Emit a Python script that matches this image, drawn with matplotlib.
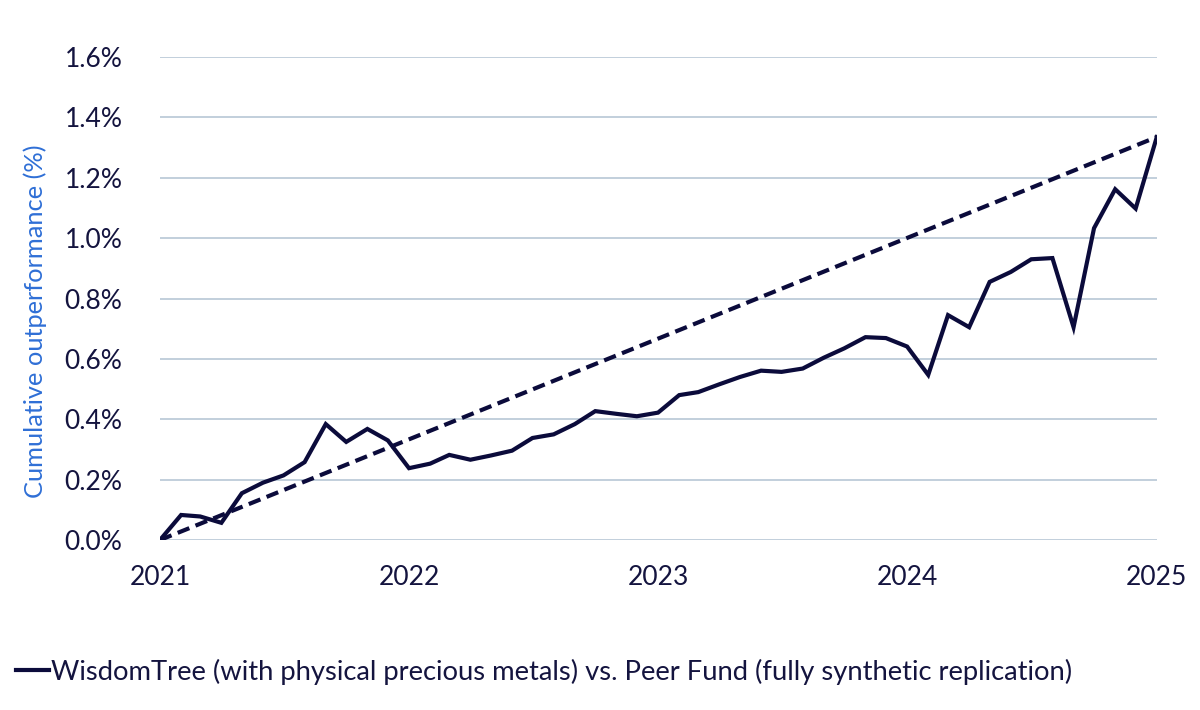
import pandas as pd
import matplotlib.pyplot as plt

# Monthly cumulative outperformance (%), Jan 2021 - Jan 2025
dates = pd.date_range('2021-01-01', '2025-01-01', freq='MS')
outperformance = [
    0.000, 0.083, 0.078, 0.057, 0.155, 0.190, 0.214, 0.258, 0.384, 0.325,
    0.368, 0.330, 0.238, 0.253, 0.282, 0.266, 0.280, 0.296, 0.338, 0.350,
    0.384, 0.427, 0.418, 0.410, 0.422, 0.480, 0.490, 0.516, 0.540, 0.561,
    0.557, 0.568, 0.604, 0.635, 0.672, 0.669, 0.641, 0.547, 0.745, 0.705,
    0.855, 0.888, 0.930, 0.934, 0.705, 1.033, 1.162, 1.098, 1.335,
]
# straight-line path from first to last value
trend_dates = [dates[0], dates[-1]]
trend_values = [outperformance[0], outperformance[-1]]

yticks = [0.0, 0.2, 0.4, 0.6, 0.8, 1.0, 1.2, 1.4, 1.6]
xticks = pd.to_datetime(['2021-01-01', '2022-01-01', '2023-01-01', '2024-01-01', '2025-01-01'])
xticklabels = ['2021', '2022', '2023', '2024', '2025']

navy = '#0B0B3B'
text_col = '#14143F'
grid_col = '#C2CFDC'
label_blue = '#2F6FD6'

plt.rcParams['font.family'] = ['Lato', 'DejaVu Sans']

fig = plt.figure(figsize=(12, 7.1), dpi=100)
ax = fig.add_axes([0.1333, 0.2394, 0.8307, 0.6803])

ax.plot(dates, outperformance, color=navy, lw=3, solid_joinstyle='miter',
        label='WisdomTree (with physical precious metals) vs. Peer Fund (fully synthetic replication)', zorder=3)
ax.plot(trend_dates, trend_values, color=navy, lw=3, dashes=(3.0, 1.6), zorder=3)

ax.set_xlim(dates[0], dates[-1])
ax.set_ylim(0, 1.6)
ax.set_yticks(yticks)
ax.set_yticklabels([f'{v:.1f}%' for v in yticks])
ax.set_xticks(xticks)
ax.set_xticklabels(xticklabels)
ax.tick_params(axis='both', length=0, labelsize=19, labelcolor=text_col)
ax.tick_params(axis='y', pad=27)
ax.tick_params(axis='x', pad=18)

ax.grid(axis='y', color=grid_col, lw=1.4)
ax.set_axisbelow(True)
for s in ax.spines.values():
    s.set_visible(False)

ax.set_ylabel('Cumulative outperformance (%)', color=label_blue, fontsize=18.3)
ax.yaxis.set_label_coords(-0.113, 0.452)

fig.legend(loc='lower left', bbox_to_anchor=(0.004, 0.02), frameon=False,
           borderpad=0, borderaxespad=0.4,
           fontsize=19.7, labelcolor=text_col, handlelength=1.2, handletextpad=0.1)

fig.savefig('out.png', dpi=100)
